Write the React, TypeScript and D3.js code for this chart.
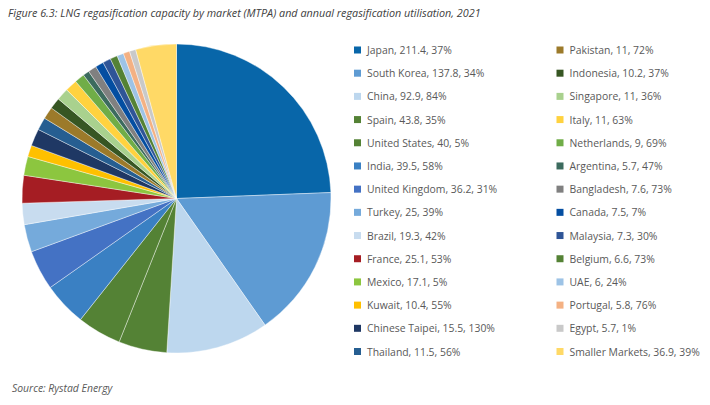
import React from "react";
import * as d3 from "d3";

const markets = ["Japan","South Korea","China","Spain","United States","India","United Kingdom","Turkey","Brazil","France","Mexico","Kuwait","Chinese Taipei","Thailand","Pakistan","Indonesia","Singapore","Italy","Netherlands","Argentina","Bangladesh","Canada","Malaysia","Belgium","UAE","Portugal","Egypt","Smaller Markets"];
const capacity = [211.4,137.8,92.9,43.8,40,39.5,36.2,25,19.3,25.1,17.1,10.4,15.5,11.5,11,10.2,11,11,9,5.7,7.6,7.5,7.3,6.6,6,5.8,5.7,36.9];
const utilisation = ["37%","34%","84%","35%","5%","58%","31%","39%","42%","53%","5%","55%","130%","56%","72%","37%","36%","63%","69%","47%","73%","7%","30%","73%","24%","76%","1%","39%"];
const colors = ["#0866a9","#5e9bd3","#bdd7ee","#548235","#548235","#3a80c3","#4472c4","#75aadb","#c8dcef","#a51d23","#8cc63f","#ffc000","#1f3864","#265e91","#9c7a2a","#375623","#a9d18e","#ffd23f","#70ad47","#3c6b5e","#808080","#044ea1","#2f5597","#548235","#9dc3e6","#f4b183","#c9c9c9","#ffd966"];

export default function App() {
  const W = 710, H = 405;
  const cx = 176.5, cy = 198.5, r = 154.5;
  const pie = d3.pie<number>().sort(null).value((d) => d);
  const arcs = pie(capacity);
  const arc = d3.arc<d3.PieArcDatum<number>>().innerRadius(0).outerRadius(r);
  const rowY = d3.scaleLinear().domain([0, 13]).range([50, 351.5]);
  const font = "'Open Sans', sans-serif";
  return (
    <svg width={W} height={H} style={{ position: "absolute", left: 0, top: 0 }}>
      <rect width={W} height={H} fill="#fff" />
      <text x={8} y={17} fontFamily={font} fontStyle="italic" fontSize={10.8} fill="#404040">
        Figure 6.3: LNG regasification capacity by market (MTPA) and annual regasification utilisation, 2021
      </text>
      <g transform={`translate(${cx},${cy})`}>
        {arcs.map((a, i) => (
          <path key={i} d={arc(a) || ""} fill={colors[i]} stroke="#fff" strokeWidth={0.4} />
        ))}
      </g>
      {markets.map((m, i) => {
        const col = i < 14 ? 0 : 1;
        const row = i % 14;
        const y = rowY(row);
        const sx = col === 0 ? 354 : 556.5;
        return (
          <g key={m}>
            <rect x={sx} y={y - 3.5} width={7} height={7} fill={colors[i]} />
            <text x={sx + 13} y={y + 4} fontFamily={font} fontSize={10.4} fill="#595959">
              {`${m}, ${capacity[i]}, ${utilisation[i]}`}
            </text>
          </g>
        );
      })}
      <text x={12} y={392} fontFamily={font} fontStyle="italic" fontSize={10.4} fill="#595959">
        Source: Rystad Energy
      </text>
    </svg>
  );
}
